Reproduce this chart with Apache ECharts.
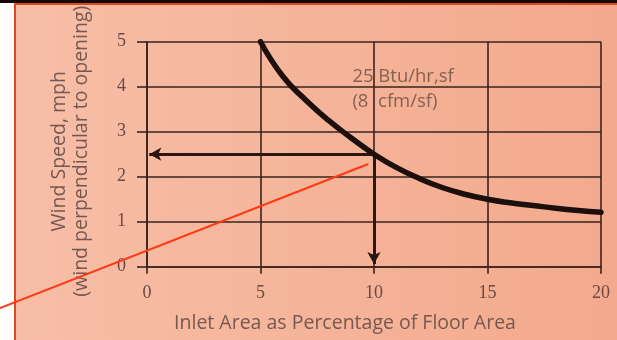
<!DOCTYPE html>
<html>
<head>
<meta charset="utf-8">
<script src="https://cdn.jsdelivr.net/npm/echarts@6/dist/echarts.min.js"></script>
<style>
  html, body { margin: 0; padding: 0; background: #fff; }
  #wrap { position: relative; width: 617px; height: 340px; overflow: hidden; background: #fff; }
  #topbar { position: absolute; left: 0; top: 0; width: 617px; height: 3px; background: #120806; }
  #panel {
    position: absolute; left: 14px; top: 3px; right: 0; bottom: 0;
    border-left: 2px solid #e0461d; border-top: 2px solid #e0461d;
    background: linear-gradient(90deg, #f7bea7 0%, #f5b59b 45%, #f3a98c 100%);
  }
  #chart { position: absolute; left: 0; top: 0; width: 617px; height: 340px; }
</style>
</head>
<body>
<div id="wrap">
  <div id="topbar"></div>
  <div id="panel"></div>
  <div id="chart"></div>
</div>
<script>
// Inlet area (% of floor area) vs. required wind speed
const inletArea = [5, 6, 7, 8, 9, 10, 11, 12, 13, 14, 15, 16, 17, 18, 19, 20];
const windSpeed = [5.0, 4.22, 3.7, 3.25, 2.86, 2.5, 2.2, 1.96, 1.76, 1.61, 1.5, 1.42, 1.36, 1.3, 1.25, 1.21];

const xTicks = [0, 5, 10, 15, 20];
const yTicks = [0, 1, 2, 3, 4, 5];

// Worked example read-off point
const readX = 10;
const readY = 2.5;

// Pointer line drawn across the figure
const pointerX = [-6.48, 9.75];
const pointerY = [-0.92, 2.28];

const noteLines = ['25 Btu/hr,sf', '(8  cfm/sf)'];
const notePos = [9.07, 3.94];

const ink = '#3a231e';
const labelColor = '#6a4a42';
const nameColor = '#765850';
const sans = 'Open Sans';
const serif = 'Liberation Serif';

const chart = echarts.init(document.getElementById('chart'), null, { renderer: 'canvas' });

chart.setOption({
  animation: false,
  backgroundColor: 'transparent',
  grid: { left: 147, right: 16, top: 41.7, bottom: 73.3, containLabel: false },
  xAxis: {
    type: 'value',
    min: xTicks[0], max: xTicks[xTicks.length - 1], interval: 5,
    name: 'Inlet Area as Percentage of Floor Area',
    nameLocation: 'middle', nameGap: 47,
    nameTextStyle: { fontFamily: sans, fontSize: 19.5, color: nameColor, padding: [0, 58, 0, 0] },
    axisLine: { show: true, lineStyle: { color: ink, width: 1.6 } },
    axisTick: { show: true, inside: false, length: 7, lineStyle: { color: ink, width: 1.6 } },
    axisLabel: { margin: 18, fontFamily: serif, fontSize: 18, color: labelColor },
    splitLine: { show: true, lineStyle: { color: ink, width: 1.6 } }
  },
  yAxis: {
    type: 'value',
    min: yTicks[0], max: yTicks[yTicks.length - 1], interval: 1,
    name: 'Wind Speed, mph\n(wind perpendicular to opening)',
    nameLocation: 'middle', nameRotate: 90, nameGap: 55,
    nameTextStyle: { fontFamily: sans, fontSize: 19.5, lineHeight: 22, color: nameColor, align: 'center', padding: [0, 0, 0, 6] },
    axisLine: { show: true, lineStyle: { color: ink, width: 1.6 } },
    axisTick: { show: true, inside: false, length: 10, lineStyle: { color: ink, width: 1.6 } },
    axisLabel: { margin: 21, fontFamily: serif, fontSize: 18, color: labelColor },
    splitLine: { show: true, lineStyle: { color: ink, width: 1.6 } }
  },
  series: [
    {
      name: 'curve',
      type: 'line',
      data: inletArea.map((x, i) => [x, windSpeed[i]]),
      smooth: 0.5,
      symbol: 'none',
      z: 6,
      lineStyle: { color: '#1c0f0c', width: 5.5, cap: 'round' }
    },
    {
      name: 'note',
      type: 'scatter',
      data: [notePos],
      symbolSize: 1,
      itemStyle: { color: 'transparent' },
      z: 4,
      label: {
        show: true,
        position: [0, 0],
        align: 'left',
        verticalAlign: 'middle',
        formatter: noteLines.join('\n'),
        fontFamily: sans,
        fontSize: 18.5,
        lineHeight: 25,
        color: '#6b4c44'
      },
      markLine: {
        silent: true,
        symbol: ['none', 'arrow'],
        symbolSize: [10, 12],
        label: { show: false },
        lineStyle: { type: 'solid', color: '#2a1612', width: 3 },
        data: [
          [{ coord: [readX, readY] }, { coord: [xTicks[0] + 0.1, readY] }],
          [{ coord: [readX, readY] }, { coord: [readX, yTicks[0] + 0.06] }]
        ]
      }
    }
  ]
});

// The pointer runs past the plot area, so draw it as a graphic from data coordinates
const p0 = chart.convertToPixel({ gridIndex: 0 }, [pointerX[0], pointerY[0]]);
const p1 = chart.convertToPixel({ gridIndex: 0 }, [pointerX[1], pointerY[1]]);
chart.setOption({
  graphic: [{
    type: 'line',
    z: 100,
    silent: true,
    shape: { x1: p0[0], y1: p0[1], x2: p1[0], y2: p1[1] },
    style: { stroke: '#ff3a12', lineWidth: 2.2 }
  }]
});
</script>
</body>
</html>
